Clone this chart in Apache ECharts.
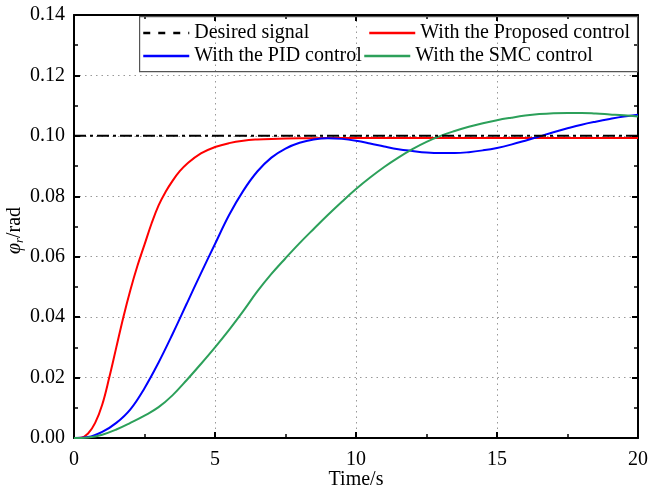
<!DOCTYPE html>
<html>
<head>
<meta charset="utf-8">
<script src="https://cdn.jsdelivr.net/npm/echarts@6/dist/echarts.min.js"></script>
<style>html,body{margin:0;padding:0;background:#fff;}#c{width:649px;height:491px;}</style>
</head>
<body>
<div id="c"></div>
<script>
var xTicks = [0, 5, 10, 15, 20];
var yTicks = [0.00, 0.02, 0.04, 0.06, 0.08, 0.10, 0.12, 0.14];

var desiredT = [0, 20];
var desiredY = [0.10, 0.10];

var redT = [0, 0.25, 0.5, 0.75, 1.0, 1.25, 1.5, 1.75, 2.0, 2.25, 2.5, 2.75, 3.0, 3.25, 3.5, 3.75, 4.0, 4.5, 5.0, 5.5, 6.0, 6.5, 7, 8, 9, 10, 12, 14, 16, 18, 20];
var redY = [0, 0.0001, 0.0015, 0.005, 0.011, 0.020, 0.030, 0.040, 0.049, 0.057, 0.064, 0.071, 0.077, 0.0815, 0.0852, 0.0883, 0.0907, 0.0942, 0.0963, 0.0976, 0.0984, 0.0988, 0.0990, 0.0992, 0.0993, 0.0993, 0.0993, 0.0993, 0.0993, 0.0993, 0.0993];

var blueT = [0, 0.5, 1.0, 1.5, 2.0, 2.5, 3.0, 3.5, 4.0, 4.5, 5.0, 5.5, 6.0, 6.5, 7.0, 7.5, 8.0, 8.5, 9.0, 9.5, 10, 10.5, 11, 11.5, 12, 12.5, 13, 13.5, 14, 14.5, 15, 15.5, 16, 16.5, 17, 17.5, 18, 18.5, 19, 19.5, 20];
var blueY = [0, 0.0003, 0.002, 0.005, 0.0095, 0.0165, 0.025, 0.0345, 0.0445, 0.0545, 0.0642, 0.0738, 0.0818, 0.0882, 0.0928, 0.0958, 0.0977, 0.0988, 0.0992, 0.0990, 0.0984, 0.0975, 0.0965, 0.0956, 0.0950, 0.0945, 0.0943, 0.0943, 0.0946, 0.0952, 0.0960, 0.0971, 0.0984, 0.0998, 0.1012, 0.1025, 0.1037, 0.1047, 0.1056, 0.1064, 0.1070];

var greenT = [0, 0.5, 1.0, 1.5, 2.0, 2.5, 3.0, 3.5, 4.0, 4.5, 5.0, 5.5, 6.0, 6.5, 7.0, 7.5, 8.0, 8.5, 9.0, 9.5, 10, 10.5, 11, 11.5, 12, 12.5, 13, 13.5, 14, 14.5, 15, 15.5, 16, 16.5, 17, 17.5, 18, 18.5, 19, 19.5, 20];
var greenY = [0, 0.0002, 0.0011, 0.0028, 0.0050, 0.0074, 0.0102, 0.0142, 0.0192, 0.0245, 0.0300, 0.0358, 0.0420, 0.0485, 0.0543, 0.0595, 0.0645, 0.0692, 0.0738, 0.0782, 0.0824, 0.0862, 0.0897, 0.0928, 0.0956, 0.0980, 0.1000, 0.1016, 0.1030, 0.1042, 0.1052, 0.1060, 0.1067, 0.1072, 0.1075, 0.1076, 0.1076, 0.1074, 0.1071, 0.1068, 0.1064];

var seriesNames = ['Desired signal', 'With the Proposed control', 'With the PID control', 'With the SMC control'];

function pairs(t, y) { return t.map(function (v, i) { return [v, y[i]]; }); }

var FONT = '"Liberation Serif", "Times New Roman", serif';
var chart = echarts.init(document.getElementById('c'), null, {renderer: 'canvas'});

var axisLine = {show: true, onZero: false, lineStyle: {color: '#000', width: 2}};
var axisTick = {show: true, inside: true, length: 6, lineStyle: {color: '#000', width: 2}};
var minorTick = {show: true, splitNumber: 2, length: 4, lineStyle: {color: '#000', width: 1.5}};

function legendAt(name, left, top, lineType) {
  var l = {
    data: [name], left: left, top: top, orient: 'horizontal',
    itemWidth: 46, itemHeight: 12, itemGap: 0, padding: 0,
    itemStyle: {opacity: 0},
    textStyle: {fontFamily: FONT, fontSize: 20, color: '#000'},
    selectedMode: false
  };
  l.lineStyle = lineType ? {type: lineType, width: 2.5} : {width: 2.5};
  return l;
}

chart.setOption({
  backgroundColor: '#fff',
  animation: false,
  grid: {left: 74, right: 11, top: 15, bottom: 53, containLabel: false, outerBoundsMode: 'none'},
  xAxis: [{
    type: 'value', min: xTicks[0], max: xTicks[xTicks.length - 1], interval: 5,
    axisLine: axisLine, axisTick: axisTick, minorTick: minorTick,
    axisLabel: {fontFamily: FONT, fontSize: 20, color: '#000', margin: 12,
      formatter: function (v) { return xTicks.indexOf(v) >= 0 ? String(v) : ''; }},
    splitLine: {show: true, lineStyle: {color: '#999', type: [1.5, 4], width: 1}},
    name: 'Time/s', nameLocation: 'middle', nameGap: 32, nameMoveOverlap: false,
    nameTextStyle: {fontFamily: FONT, fontSize: 20, color: '#000'}
  }, {
    type: 'value', position: 'top', min: 0, max: 20, interval: 5,
    axisLine: axisLine, axisTick: axisTick, minorTick: minorTick,
    axisLabel: {show: false}, splitLine: {show: false}
  }],
  yAxis: [{
    type: 'value', min: yTicks[0], max: yTicks[yTicks.length - 1], interval: 0.02,
    axisLine: axisLine, axisTick: axisTick, minorTick: minorTick,
    axisLabel: {fontFamily: FONT, fontSize: 20, color: '#000', margin: 9,
      formatter: function (v) { return v.toFixed(2); }},
    splitLine: {show: true, lineStyle: {color: '#999', type: [1.5, 4], width: 1}},
    name: '{i|φ}{s|r}{n|/rad}', nameLocation: 'middle', nameGap: 48, nameMoveOverlap: false,
    nameTextStyle: {
      rich: {
        i: {fontFamily: FONT, fontSize: 20, fontStyle: 'italic', color: '#000'},
        s: {fontFamily: FONT, fontSize: 13, fontStyle: 'italic', color: '#000', verticalAlign: 'bottom', padding: [9, 0, 0, 0]},
        n: {fontFamily: FONT, fontSize: 20, color: '#000', padding: [0, 8, 0, 0]}
      }
    }
  }, {
    type: 'value', position: 'right', min: 0, max: 0.14, interval: 0.02,
    axisLine: axisLine, axisTick: axisTick, minorTick: minorTick,
    axisLabel: {show: false}, splitLine: {show: false}
  }],
  legend: [
    legendAt(seriesNames[0], 142, 23, [7, 8]),
    legendAt(seriesNames[1], 368, 23),
    legendAt(seriesNames[2], 142, 46),
    legendAt(seriesNames[3], 363, 46)
  ],
  graphic: [{
    type: 'rect', left: 139, top: 16, z: 100,
    shape: {width: 498, height: 55},
    style: {fill: 'rgba(0,0,0,0)', stroke: '#555', lineWidth: 1.2}
  }, {
    type: 'rect', left: 140, top: 17, z: -1,
    shape: {width: 496, height: 53},
    style: {fill: '#fff'}
  }],
  series: [{
    name: seriesNames[0], type: 'line', data: pairs(desiredT, desiredY), symbol: 'none',
    lineStyle: {color: '#000', width: 2, type: [12, 4, 3, 4]}, itemStyle: {color: '#000'}, z: 5
  }, {
    name: seriesNames[1], type: 'line', data: pairs(redT, redY), symbol: 'none', smooth: 0.4,
    lineStyle: {color: '#ff0000', width: 2}, itemStyle: {color: '#ff0000'}
  }, {
    name: seriesNames[2], type: 'line', data: pairs(blueT, blueY), symbol: 'none', smooth: 0.4,
    lineStyle: {color: '#0000ff', width: 2}, itemStyle: {color: '#0000ff'}
  }, {
    name: seriesNames[3], type: 'line', data: pairs(greenT, greenY), symbol: 'none', smooth: 0.4,
    lineStyle: {color: '#2ca05a', width: 2}, itemStyle: {color: '#2ca05a'}
  }]
});
</script>
</body>
</html>
